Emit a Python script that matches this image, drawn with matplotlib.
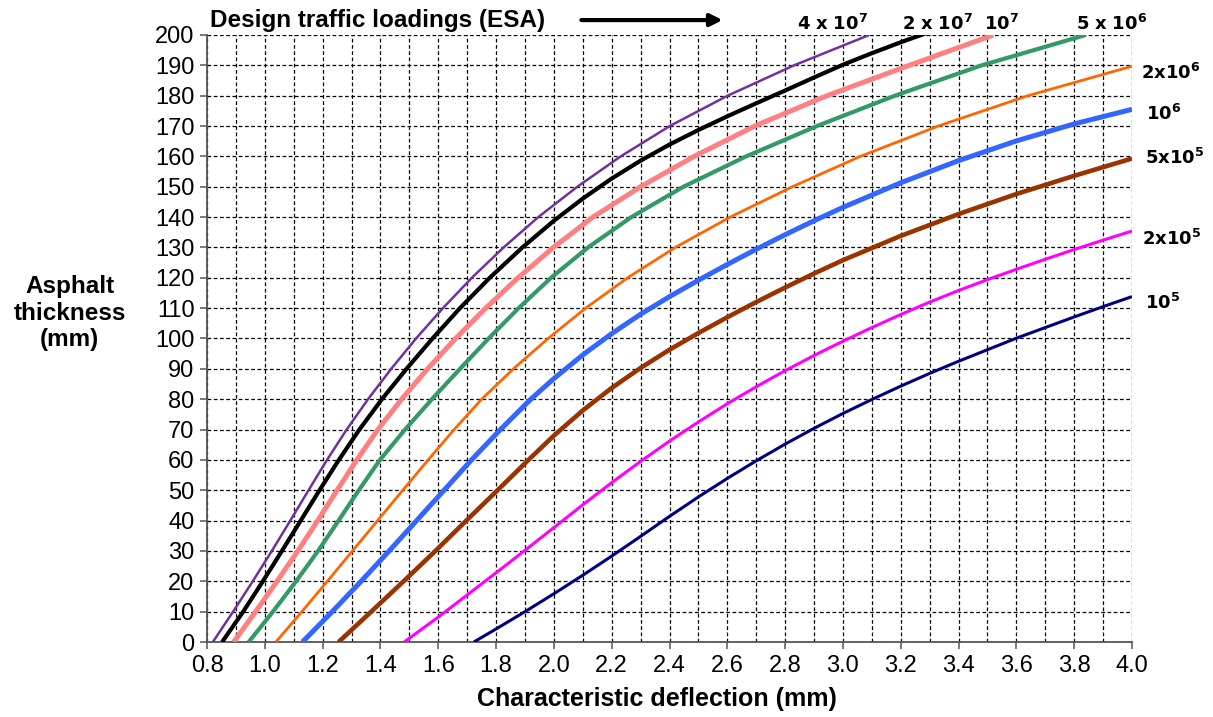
import matplotlib
matplotlib.use("Agg")
import matplotlib.pyplot as plt
from matplotlib.ticker import MultipleLocator, FormatStrFormatter

plt.rcParams['font.family'] = ['Liberation Sans', 'DejaVu Sans']

# Design curves: characteristic deflection (mm) vs asphalt thickness (mm)
thk_grid = [0, 10, 20, 30, 40, 50, 60, 70, 80, 90, 100,
            110, 120, 130, 140, 150, 160, 170, 180, 190, 200]

defl_4e7 = [0.82, 0.89, 0.958, 1.024, 1.088, 1.151, 1.215, 1.283, 1.357, 1.437, 1.523,
            1.616, 1.716, 1.826, 1.946, 2.081, 2.231, 2.401, 2.601, 2.831, 3.091]
thk_4e7 = thk_grid

defl_2e7 = [0.852, 0.925, 0.993, 1.059, 1.124, 1.189, 1.256, 1.327, 1.405, 1.49, 1.58,
            1.675, 1.778, 1.891, 2.0, 2.1, 2.2, 2.3, 2.4, 2.5, 2.6, 2.7, 2.8,
            2.9, 3.0, 3.1, 3.2, 3.3]
thk_2e7 = [0, 10, 20, 30, 40, 50, 60, 70, 80, 90, 100,
           110, 120, 130, 138.8, 146.1, 152.7, 158.6, 163.9, 168.7, 173.2, 177.5, 181.7,
           186.0, 190.2, 194.0, 197.6, 201.0]

defl_1e7 = [0.892, 0.968, 1.042, 1.114, 1.183, 1.25, 1.318, 1.391, 1.473, 1.563, 1.66,
            1.764, 1.876, 1.998, 2.135, 2.30, 2.485, 2.695, 2.945, 3.23, 3.52]
thk_1e7 = thk_grid

defl_5e6 = [0.944, 1.028, 1.108, 1.184, 1.255, 1.325, 1.398, 1.485, 1.578, 1.675, 1.774,
            1.878, 1.99, 2.118, 2.268, 2.448, 2.665, 2.91, 3.18, 3.48, 3.84]
thk_5e6 = thk_grid

defl_2e6 = [1.038, 1.128, 1.216, 1.303, 1.39, 1.477, 1.565, 1.655, 1.75, 1.86, 1.98,
            2.11, 2.255, 2.42, 2.61, 2.825, 3.06, 3.33, 3.64, 4.0]
thk_2e6 = [0, 10, 20, 30, 40, 50, 60, 70, 80, 90, 100,
           110, 120, 130, 140, 150, 160, 170, 180, 189.7]

defl_1e6 = [1.13, 1.233, 1.333, 1.43, 1.525, 1.62, 1.715, 1.815, 1.92, 2.0, 2.1, 2.2,
            2.3, 2.4, 2.5, 2.6, 2.7, 2.8, 2.9, 3.0, 3.2, 3.4, 3.6, 3.8, 4.0]
thk_1e6 = [0, 10, 20, 30, 40, 50, 60, 70, 80, 86.8, 94.6, 101.6,
           108, 113.8, 119.2, 124.4, 129.4, 134.2, 138.8, 143.2, 151.3, 158.6, 165.1, 170.7, 175.5]

defl_5e5 = [1.255, 1.368, 1.48, 1.59, 1.697, 1.805, 1.912, 2.0, 2.1, 2.2, 2.3, 2.4,
            2.5, 2.6, 2.7, 2.8, 2.9, 3.0, 3.2, 3.4, 3.6, 3.8, 4.0]
thk_5e5 = [0, 10, 20, 30, 40, 50, 60, 68, 76.3, 83.7, 90.3, 96.3,
           101.8, 107, 112, 116.8, 121.4, 125.8, 133.8, 141, 147.6, 153.6, 159.3]

defl_2e5 = [1.482, 1.6, 1.7, 1.8, 1.9, 2.0, 2.1, 2.2, 2.3, 2.4, 2.5, 2.6, 2.7,
            2.8, 2.9, 3.0, 3.1, 3.2, 3.3, 3.4, 3.5, 3.6, 3.7, 3.8, 3.9, 4.0]
thk_2e5 = [0, 8.2, 15.5, 22.8, 30.2, 37.7, 45.2, 52.5, 59.5, 66.2, 72.5, 78.5, 84.1,
           89.4, 94.4, 99.1, 103.6, 107.9, 112, 115.8, 119.4, 122.8, 126.1, 129.3, 132.4, 135.4]

defl_1e5 = [1.723, 1.8, 1.9, 2.0, 2.1, 2.2, 2.3, 2.4, 2.5, 2.6, 2.7, 2.8,
            2.9, 3.0, 3.1, 3.2, 3.3, 3.4, 3.5, 3.6, 3.7, 3.8, 3.9, 4.0]
thk_1e5 = [0, 4.3, 10, 15.9, 22, 28.3, 34.8, 41.4, 47.8, 53.9, 59.7, 65.2,
           70.4, 75.3, 79.9, 84.3, 88.5, 92.5, 96.3, 100.1, 103.6, 107.1, 110.5, 113.8]

curves = [
    (defl_1e5, thk_1e5, '#000080', 2.2),
    (defl_2e5, thk_2e5, '#FF00FF', 2.2),
    (defl_5e5, thk_5e5, '#993300', 3.3),
    (defl_1e6, thk_1e6, '#3366FF', 3.6),
    (defl_2e6, thk_2e6, '#FF6600', 2.0),
    (defl_5e6, thk_5e6, '#339966', 3.0),
    (defl_1e7, thk_1e7, '#FF8080', 3.6),
    (defl_2e7, thk_2e7, '#000000', 3.0),
    (defl_4e7, thk_4e7, '#7030A0', 1.8),
]

fig = plt.figure(figsize=(12.13, 7.17), dpi=100)
ax = fig.add_axes([0.1707, 0.1046, 0.7625, 0.8466])

for xs, ys, col, lw in curves:
    ax.plot(xs, ys, color=col, lw=lw, solid_capstyle='butt',
            solid_joinstyle='round', zorder=3)

ax.set_xlim(0.8, 4.0)
ax.set_ylim(0, 200)
ax.xaxis.set_major_locator(MultipleLocator(0.2))
ax.xaxis.set_minor_locator(MultipleLocator(0.1))
ax.yaxis.set_major_locator(MultipleLocator(10))
ax.xaxis.set_major_formatter(FormatStrFormatter('%.1f'))

ax.grid(True, which='both', color='black', linestyle=(0, (3, 2)), linewidth=0.9)
ax.set_axisbelow(True)
for s in ['top', 'right']:
    ax.spines[s].set_visible(False)
for s in ['left', 'bottom']:
    ax.spines[s].set_color('#555555')
    ax.spines[s].set_linewidth(1.3)

ax.tick_params(axis='both', which='major', labelsize=17, length=5, width=1.1,
               color='#555555', direction='out', pad=4)
ax.tick_params(axis='x', which='minor', length=0)

fig.text(0.5416, 0.025, 'Characteristic deflection (mm)', ha='center', va='center',
         fontsize=18, fontweight='bold')
fig.text(0.0573, 0.563, 'Asphalt\nthickness\n(mm)', ha='center', va='center',
         fontsize=17.5, fontweight='bold', linespacing=1.2)

# Header and traffic-loading labels
fig.text(0.173, 0.971, 'Design traffic loadings (ESA)', ha='left', va='center',
         fontsize=17.5, fontweight='bold')
ax.annotate('', xy=(0.598, 0.972), xytext=(0.477, 0.972), xycoords='figure fraction',
            arrowprops=dict(arrowstyle='-|>', color='black', lw=3, mutation_scale=18))

top_labels = [
    (r'$\mathbf{4\ x\ 10^7}$', 0.686),
    (r'$\mathbf{2\ x\ 10^7}$', 0.773),
    (r'$\mathbf{10^7}$', 0.826),
    (r'$\mathbf{5\ x\ 10^6}$', 0.916),
]
for txt, xf in top_labels:
    fig.text(xf, 0.966, txt, ha='center', va='center', fontsize=13)

right_labels = [
    (r'$\mathbf{2x10^6}$', 187.5, 4.03),
    (r'$\mathbf{10^6}$', 174, 4.05),
    (r'$\mathbf{5x10^5}$', 159.5, 4.045),
    (r'$\mathbf{2x10^5}$', 132.7, 4.035),
    (r'$\mathbf{10^5}$', 111.7, 4.045),
]
for txt, yv, xv in right_labels:
    ax.text(xv, yv, txt, ha='left', va='center', fontsize=13, clip_on=False)

fig.savefig('out.png', dpi=100)
